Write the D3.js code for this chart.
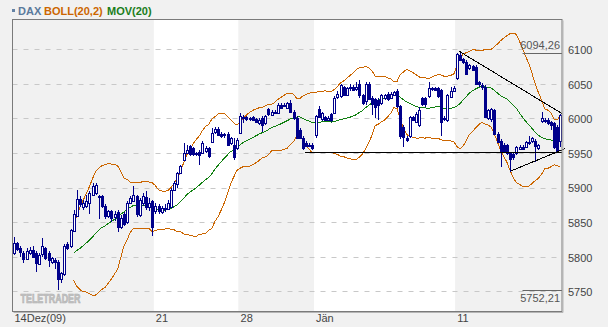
<!DOCTYPE html>
<html lang="de">
<head>
<meta charset="UTF-8">
<title>DAX BOLL(20,2) MOV(20)</title>
<script src="https://d3js.org/d3.v7.min.js"></script>
<style>
  body { margin: 0; background: #f1f1f1; }
  svg { display: block; font-family: "Liberation Sans", Arial, sans-serif; }
</style>
</head>
<body>
<script>
// hourly DAX bars, 14 Dec 2009 - 14 Jan 2010
const opens = [
  5805,5820,5812,5806,5797,5806,5810,5805,5790, 5803,5812,5805,5792,5795,5792,5768,5776,5818,
  5815,5838,5860,5883,5872,5873,5877,5890,5893, 5888,5888,5874,5859,5866,5858,5865,5843,5862,
  5850,5878,5882,5888,5860,5878,5886,5872,5880,
  5866,5873,5865,5871,5870,5873,5897,5905,5921, 5940,5950,5960,5957,5950,5952,5950,5952,5957,
  5966,5980,5985,5978,5977,5978,5964,5962,5957,
  5979,6000,6002,6000,6002,5999,5993,6001, 5993,6013,6006,6010,6008,6020,6018,6015,
  6023,6010,6001,5984,5972,5965,5962,5962,
  5975,6013,6000,6002,5998,6006,6008,6030,6032, 6045,6034,6044,6046,6042,6050,6034,6025,6050,
  6030,6028,6027,6022,6030,6036,6030,6034,6040, 6018,5988,5972,5974,6002,5995,5990,6029,6029,
  6032,6042,6044,6044,6041,5998,5998,6032,6040,
  6058,6092,6086,6082,6072,6076,6075,6052,6049, 6046,6000,5998,6012,5978,5968,5962,5961,5950,
  5949,5950,5956,5959,5959,5964,5966,5968,5956, 5995,5998,5998,5995,5993,5988,5968
];
const highs = [
  5828,5822,5815,5808,5812,5814,5815,5808,5806, 5827,5814,5808,5800,5798,5795,5778,5818,5822,
  5840,5868,5896,5888,5882,5890,5895,5906,5906, 5890,5890,5876,5868,5868,5866,5868,5860,5864,
  5880,5888,5902,5890,5885,5892,5895,5885,5882,
  5878,5876,5874,5876,5882,5899,5910,5923,5933, 5965,5962,5962,5959,5952,5955,5968,5960,5959,
  5986,5988,5987,5980,5979,5980,5973,5972,5971,
  6008,6005,6003,6002,6004,6001,6000,6003, 6005,6015,6012,6012,6022,6022,6022,6024,
  6026,6012,6003,5986,5974,5968,5964,5964,
  6005,6018,6010,6004,6003,6008,6032,6040,6050, 6047,6046,6050,6048,6053,6055,6036,6053,6053,
  6032,6030,6030,6036,6036,6038,6038,6040,6043, 6020,5990,5975,6004,6004,6009,6017,6031,6031,
  6053,6046,6046,6046,6043,6003,6036,6046,6047,
  6094.26,6094,6088,6084,6079,6078,6077,6054,6051, 6048,6014,6015,6014,5980,5970,5964,5963,5952,
  5951,5960,5961,5961,5968,5975,5973,5970,5963, 6010,6000,6000,5997,5995,5990,6007
];
const lows = [
  5803,5808,5800,5791,5795,5803,5798,5778,5788, 5800,5795,5785,5790,5782,5752.21,5762,5772,5810,
  5812,5836,5858,5872,5868,5870,5862,5888,5890, 5854,5870,5855,5856,5850,5852,5836,5840,5845,
  5848,5876,5880,5857,5858,5874,5868,5866,5830,
  5862,5862,5862,5865,5868,5871,5895,5900,5919, 5938,5948,5945,5946,5946,5932,5948,5950,5943,
  5964,5978,5974,5972,5972,5960,5962,5940,5955,
  5977,5994,5997,5996,5996,5993,5991,5980, 5991,6004,6004,6006,6006,6014,6016,6013,
  6008,5998,5970,5970,5955,5958,5958,5955,
  5972,6000,5997,5996,5996,5995,6006,6028,6030, 6032,6032,6040,6040,6040,6030,6020,6020,6026,
  6005,6000,5998,6020,6027,6025,6028,6032,6015, 5970,5959,5966,5972,5996,5993,5988,6018,6017,
  6030,6040,6039,6030,5974,5996,5995,6030,6038,
  6056,6083,6079,6063,6070,6068,6048,6046,6041, 6000,5998,5995,5976,5964,5930,5950,5947,5923,
  5940,5947,5954,5954,5957,5962,5964,5937,5954, 5993,5994,5991,5983,5956,5952,5958
];
const closes = [
  5820,5812,5806,5797,5808,5810,5800,5790,5803, 5815,5797,5795,5798,5792,5768,5776,5816,5812,
  5838,5862,5884,5876,5878,5880,5892,5903,5904, 5886,5874,5860,5866,5856,5862,5843,5856,5848,
  5878,5885,5890,5862,5882,5888,5872,5878,5842,
  5873,5866,5871,5870,5878,5897,5907,5921,5931, 5950,5955,5948,5948,5949,5948,5964,5957,5945,
  5979,5985,5976,5975,5975,5962,5971,5945,5969,
  6003,6002,5999,5998,5998,5995,5998,5991, 6003,6006,6010,6008,6020,6016,6020,6022,
  6010,6001,5972,5972,5957,5961,5960,5957,
  6003,6002,6008,5998,6001,5997,6030,6035,6048, 6034,6044,6046,6042,6045,6034,6022,6050,6028,
  6022,6017,6020,6034,6034,6029,6036,6038,6018, 5974,5974,5969,6002,5998,6007,6012,6020,6020,
  6044,6044,6041,6032,5995,6000,6034,6040,6044,
  6093,6085,6081,6065,6077,6070,6050,6049,6046, 6002,6012,6013,5978,5966,5953,5954,5950,5942,
  5944,5958,5959,5956,5966,5966,5971,5961,5961, 6000,5996,5993,5990,5959,5954,6005
];

// first bar of each week and its label
const weekStarts = [0, 45, 72, 96, 141];
const weekLabels = ["14Dez(09)", "21", "28", "Jän", "11"];
const yTicks = [5750, 5800, 5850, 5900, 5950, 6000, 6050, 6100];

// drawn trend lines: [bar, price, bar, price]
const trendLines = [
  [142.3, 6097, 175, 6007],
  [158.7, 5924, 176, 5956.4],
  [93.2, 5951, 175, 5951]
];
const maxLabel = { value: 6094.26, text: "6094,26" };
const minLabel = { value: 5752.21, text: "5752,21" };
const period = 20, bandWidth = 2;

const W = 608, H = 327;
const plotL = 12.5, plotR = 562, plotT = 19.5, plotB = 311.5;
const n = closes.length;

const svg = d3.select("body").append("svg").attr("width", W).attr("height", H);

const x = d3.scaleLinear().domain([0, n]).range([plotL, plotR]);
const y = d3.scaleLinear().domain([5720.8, 6143.8]).range([311.5, 19]);
const cx = i => x(i + 0.5);

// week shading
weekStarts.forEach((s, k) => {
  const e = k < weekStarts.length - 1 ? weekStarts[k + 1] : n;
  svg.append("rect")
     .attr("x", x(s)).attr("y", plotT)
     .attr("width", x(e) - x(s)).attr("height", plotB - plotT)
     .attr("fill", k % 2 ? "#ffffff" : "#f1f1f1");
});

// dashed grid
svg.append("g").selectAll("line").data(yTicks).join("line")
   .attr("x1", plotL).attr("x2", plotR)
   .attr("y1", d => Math.round(y(d)) + 0.5).attr("y2", d => Math.round(y(d)) + 0.5)
   .attr("stroke", "#c8c8c8").attr("stroke-dasharray", "5,6");

// watermark
svg.append("text").attr("x", 20.5).attr("y", 302.5)
   .attr("textLength", 60).attr("lengthAdjust", "spacingAndGlyphs")
   .attr("font-size", 13).attr("font-weight", "bold")
   .attr("fill", "#c4c4c4").attr("stroke", "#adadad").attr("stroke-width", 0.6)
   .text("TELETRADER");

// moving average and bollinger bands
const ma = [], up = [], lo = [];
for (let i = period - 1; i < n; i++) {
  const win = closes.slice(i - period + 1, i + 1);
  const m = d3.mean(win);
  const sd = Math.sqrt(d3.mean(win, v => (v - m) * (v - m)));
  ma.push([i, m]); up.push([i, m + bandWidth * sd]); lo.push([i, m - bandWidth * sd]);
}
const line = d3.line().x(d => cx(d[0])).y(d => y(d[1]));
[up, lo].forEach(s => svg.append("path").datum(s).attr("d", line)
   .attr("fill", "none").attr("stroke", "#cc6600").attr("stroke-width", 1)
   .attr("shape-rendering", "crispEdges"));
svg.append("path").datum(ma).attr("d", line)
   .attr("fill", "none").attr("stroke", "#108010").attr("stroke-width", 1)
   .attr("shape-rendering", "crispEdges");

// candles
const candle = svg.append("g").selectAll("g").data(d3.range(n)).join("g")
   .attr("shape-rendering", "crispEdges");
candle.append("line")
      .attr("x1", i => Math.round(cx(i)) + 0.5).attr("x2", i => Math.round(cx(i)) + 0.5)
      .attr("y1", i => y(highs[i])).attr("y2", i => y(lows[i]))
      .attr("stroke", "#00008b");
candle.append("rect")
      .attr("x", i => Math.round(cx(i)) - 0.5)
      .attr("y", i => Math.round(y(Math.max(opens[i], closes[i]))) + 0.5)
      .attr("width", 2)
      .attr("height", i => Math.max(1, Math.round(Math.abs(y(opens[i]) - y(closes[i])))))
      .attr("fill", i => closes[i] < opens[i] ? "#00008b" : "#ffffff")
      .attr("stroke", "#00008b");

// trend lines
svg.append("g").selectAll("line").data(trendLines).join("line")
   .attr("x1", d => x(d[0])).attr("y1", d => y(d[1]))
   .attr("x2", d => x(d[2])).attr("y2", d => y(d[3]))
   .attr("stroke", "#000").attr("stroke-width", 1)
   .attr("shape-rendering", "crispEdges");

// max / min markers
const markX = 522.5;
[[maxLabel, -4.5], [minLabel, 11]].forEach(([m, dy]) => {
  const yy = Math.round(y(m.value)) + 0.5;
  svg.append("line").attr("x1", markX).attr("x2", plotR).attr("y1", yy).attr("y2", yy)
     .attr("stroke", "#666");
  svg.append("text").attr("x", plotR - 2).attr("y", yy + dy)
     .attr("text-anchor", "end").attr("font-size", 11).attr("fill", "#555").text(m.text);
});

// frame
svg.append("rect").attr("x", plotL).attr("y", plotT)
   .attr("width", plotR - plotL).attr("height", plotB - plotT)
   .attr("fill", "none").attr("stroke", "#7a7a7a");
svg.append("path").attr("d", `M${plotR + 1},${plotT + 1}V${plotB + 1}H${plotL + 1}`)
   .attr("fill", "none").attr("stroke", "#b5b5b5");

// axes
const yAxis = svg.append("g").attr("transform", `translate(${plotR},0)`)
   .call(d3.axisRight(y).tickValues(yTicks).tickSize(0).tickPadding(6).tickFormat(d3.format("d")));
const xAxis = svg.append("g").attr("transform", `translate(0,${plotB})`)
   .call(d3.axisBottom(x).tickValues(weekStarts).tickSize(0).tickPadding(3)
         .tickFormat((d, k) => weekLabels[k]));
[yAxis, xAxis].forEach(a => {
  a.select(".domain").remove();
  a.selectAll("text").attr("font-size", 11).attr("fill", "#444")
   .attr("font-family", "\"Liberation Sans\", Arial, sans-serif");
});
yAxis.selectAll("text").attr("dy", "0.4em");
xAxis.selectAll("text").attr("text-anchor", "start").attr("dx", 1.5);

// legend
svg.append("rect").attr("x", 12).attr("y", 9).attr("width", 3).attr("height", 3).attr("fill", "#6482a4");
const legend = [["DAX", 18, "#5a7a9c"], ["BOLL(20,2)", 44, "#cc6600"], ["MOV(20)", 107, "#1a7d1a"]];
svg.append("g").selectAll("text").data(legend).join("text")
   .attr("x", d => d[1]).attr("y", 14.5)
   .attr("font-size", 11).attr("font-weight", "bold")
   .attr("fill", d => d[2]).text(d => d[0]);
</script>
</body>
</html>
